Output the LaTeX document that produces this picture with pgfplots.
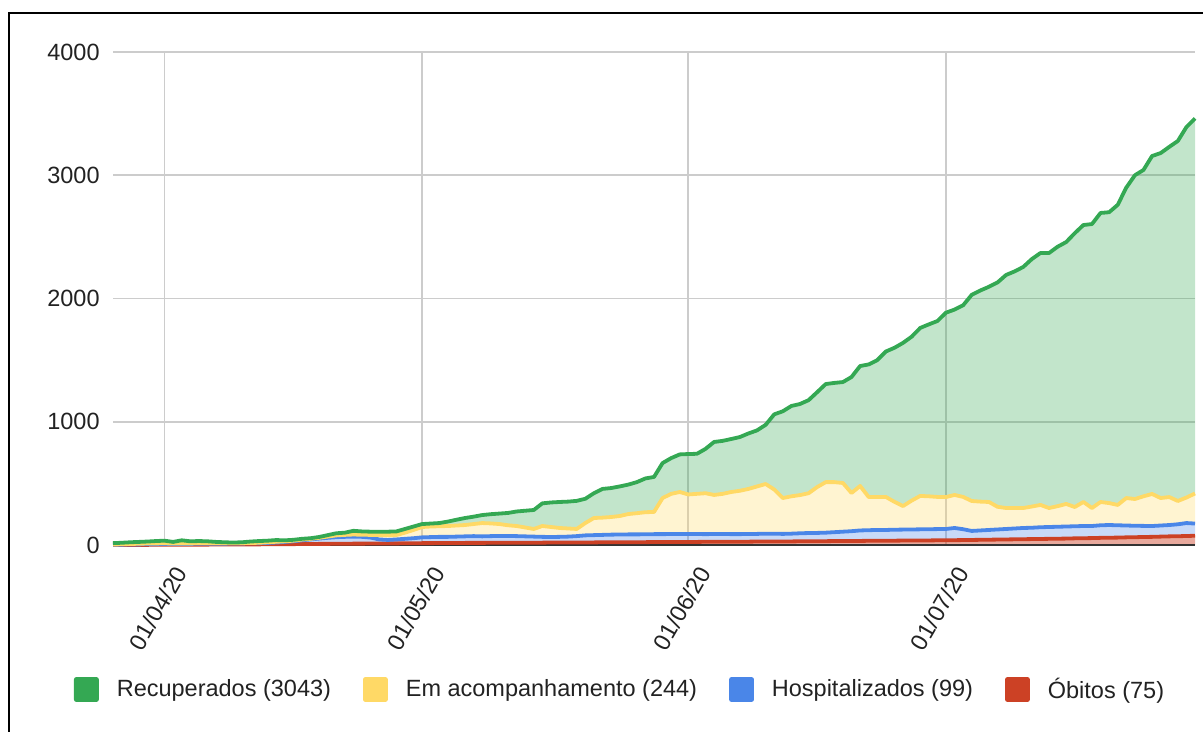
\documentclass[border=0pt]{standalone}
\usepackage{fontspec}
\setmainfont{Liberation Sans}
\usepackage{pgfplots}
\pgfplotsset{compat=1.18}
\usepgfplotslibrary{fillbetween}
\usepackage{pgfplotstable}

\definecolor{cG}{HTML}{34A853}
\definecolor{cY}{HTML}{FFD966}
\definecolor{cB}{HTML}{4A86E8}
\definecolor{cR}{HTML}{CC4125}
\definecolor{gridc}{HTML}{CCCCCC}
\definecolor{tc}{HTML}{222222}
\definecolor{basec}{HTML}{333333}

% d = days since 01/04/20; r = obitos; b = obitos+hosp; y = b+acomp; t = total
\pgfplotstableread{
d r b y t
-6 0 2 4 15
-5 0 3 6 18
-4 1 4 8 22
-3 1 5 10 25
-2 1 6 12 28
-1 2 7 13 32
0 2 8 14 35
1 2 8 12 25
2 2 9 13 38
3 3 9 13 30
4 3 10 14 32
5 3 10 14 30
6 4 11 14 25
7 4 11 15 22
8 4 12 15 20
9 5 13 15 22
10 5 14 16 28
11 5 15 18 32
12 6 17 22 35
13 6 20 26 40
14 7 25 30 38
15 7 30 35 42
16 8 38 44 50
17 8 45 50 55
18 9 52 58 65
19 9 58 68 80
20 10 63 78 95
21 10 66 82 100
22 11 68 85 115
23 11 66 83 110
24 12 60 82 108
25 12 45 81 108
26 13 41 81 108
27 13 45 81 110
28 14 50 100 130
29 14 55 122 150
30 15 62 146 170
31 15 64 150 174
32 16 66 152 178
33 16 66 154 190
34 16 68 158 205
35 17 70 162 219
36 17 72 170 230
37 17 70 178 243
38 18 72 175 250
39 18 73 170 255
40 18 73 160 260
41 18 72 154 272
42 19 70 142 278
43 19 68 130 284
44 19 66 154 338
45 20 65 146 345
46 20 66 138 349
47 20 68 134 352
48 21 72 130 358
49 21 78 178 375
50 21 80 219 420
51 22 82 222 455
52 22 84 227 462
53 22 85 235 475
54 23 86 251 490
55 23 86 258 510
56 23 87 266 540
57 24 88 268 552
58 24 88 381 665
59 24 89 415 705
60 25 90 430 735
61 25 90 410 738
62 25 89 415 740
63 26 88 420 780
64 26 89 406 836
65 26 90 415 845
66 27 88 430 860
67 27 88 440 876
68 27 90 455 905
69 28 90 475 930
70 28 92 495 975
71 28 92 450 1060
72 29 90 381 1085
73 29 92 395 1128
74 30 95 405 1144
75 30 97 420 1175
76 31 98 470 1240
77 31 100 510 1306
78 32 104 510 1315
79 32 108 503 1322
80 33 112 422 1363
81 33 118 479 1452
82 34 120 389 1465
83 34 122 389 1500
84 35 122 390 1570
85 35 124 350 1600
86 36 125 316 1640
87 36 126 360 1690
88 37 127 398 1761
89 37 128 395 1790
90 38 129 390 1817
91 38 130 389 1885
92 39 138 406 1910
93 40 128 390 1945
94 41 114 357 2030
95 42 118 352 2065
96 43 122 349 2095
97 44 126 310 2130
98 45 130 300 2191
99 46 134 300 2220
100 47 138 300 2256
101 48 140 312 2320
102 49 144 325 2369
103 50 146 300 2369
104 51 148 315 2420
105 52 150 333 2458
106 54 152 308 2530
107 55 154 349 2596
108 56 154 300 2604
109 58 160 349 2694
110 59 162 340 2700
111 60 160 325 2760
112 62 158 381 2900
113 63 156 373 3000
114 65 155 395 3043
115 66 154 414 3156
116 68 158 381 3180
117 70 162 389 3230
118 71 168 357 3278
119 73 178 385 3391
120 75 174 418 3461
}\data

\begin{document}
\begin{tikzpicture}
\begin{axis}[
  at={(56.5pt,93.5pt)}, anchor=south west,
  width=541pt, height=246.5pt, scale only axis,
  xmin=-6, xmax=120, ymin=0, ymax=4000,
  axis line style={draw=none},
  major tick length=0pt,
  xtick={0,30,61,91},
  xticklabels={01/04/20,01/05/20,01/06/20,01/07/20},
  ytick={0,1000,2000,3000,4000},
  scaled y ticks=false,
  grid=major,
  grid style={draw=gridc, line width=0.9pt},
  tick label style={font=\fontsize{11.75}{14}\selectfont, text=tc},
  yticklabel style={anchor=east, inner sep=0pt, xshift=-6.5pt},
  xticklabel style={rotate=60, anchor=north east, inner sep=0pt, yshift=-8.5pt, xshift=-6pt},
  /pgf/number format/assume math mode=true,
  /pgf/number format/1000 sep={},
  clip=false,
  legend columns=4,
  legend image code/.code={\fill[#1, rounded corners=1pt] (0pt,-6pt) rectangle (12pt,6pt);},
  legend style={at={(0.4677,-0.2931)}, anchor=center, draw=none, fill=none,
    font=\fontsize{11.75}{14}\selectfont, text=tc,
    nodes={inner sep=0pt},
    /tikz/every odd column/.append style={column sep=9pt},
    /tikz/every even column/.append style={column sep=16pt}},
]
\addlegendimage{cG}\addlegendentry{Recuperados (3043)}
\addlegendimage{cY}\addlegendentry{Em acompanhamento (244)}
\addlegendimage{cB}\addlegendentry{Hospitalizados (99)}
\addlegendimage{cR}\addlegendentry{Óbitos (75)}

\addplot[draw=none, name path=Z, forget plot] coordinates {(-6,0) (120,0)};
\addplot[draw=none, name path=R, forget plot] table[x=d,y=r]{\data};
\addplot[draw=none, name path=B, forget plot] table[x=d,y=b]{\data};
\addplot[draw=none, name path=Y, forget plot] table[x=d,y=y]{\data};
\addplot[draw=none, name path=T, forget plot] table[x=d,y=t]{\data};

\addplot[fill=cG, fill opacity=0.3, draw=none, forget plot] fill between[of=T and Y];
\addplot[fill=cY, fill opacity=0.3, draw=none, forget plot] fill between[of=Y and B];
\addplot[fill=cB, fill opacity=0.3, draw=none, forget plot] fill between[of=B and R];
\addplot[fill=cR, fill opacity=0.45, draw=none, forget plot] fill between[of=R and Z];

\addplot[basec, line width=0.7pt, forget plot] coordinates {(-6,0) (120,0)};

\addplot[cR, line width=1.9pt, line join=round, forget plot] table[x=d,y=r]{\data};
\addplot[cB, line width=1.9pt, line join=round, forget plot] table[x=d,y=b]{\data};
\addplot[cY, line width=1.9pt, line join=round, forget plot] table[x=d,y=y]{\data};
\addplot[cG, line width=1.9pt, line join=round, forget plot] table[x=d,y=t]{\data};
\end{axis}
\draw[line width=1pt, black] (4.5pt,-3pt) -- (4.5pt,359.5pt) -- (605pt,359.5pt);
\pgfresetboundingbox
\useasboundingbox (0,0) rectangle (601.5pt,366pt);
\end{tikzpicture}
\end{document}
